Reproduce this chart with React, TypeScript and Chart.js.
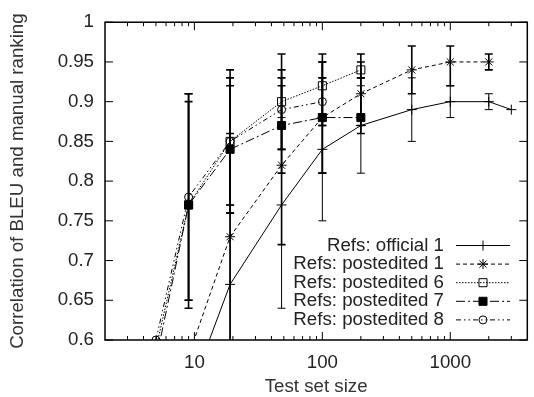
import React, { useEffect, useRef } from 'react';
import { Chart, registerables } from 'chart.js';
import { drawPoint } from 'chart.js/helpers';

Chart.register(...registerables);

// ---- data ----
const xOfficial1 = [9, 19, 48, 100, 200, 500, 1000, 2000, 3000];
const yOfficial1 = [0.53, 0.67, 0.77, 0.84, 0.87, 0.89, 0.9, 0.9, 0.89];
const loOfficial1 = [null, 0.4, 0.64, 0.75, 0.81, 0.85, 0.88, 0.89, null];
const hiOfficial1 = [null, 0.77, 0.88, 0.93, 0.92, 0.93, 0.92, 0.91, null];

const xPost1 = [9, 19, 48, 100, 200, 500, 1000, 2000];
const yPost1 = [0.58, 0.73, 0.82, 0.88, 0.91, 0.94, 0.95, 0.95];
const loPost1 = [null, 0.55, 0.72, 0.81, 0.86, 0.91, 0.92, 0.94];
const hiPost1 = [null, 0.86, 0.92, 0.96, 0.95, 0.97, 0.97, 0.96];

const xPost6 = [4, 9, 19, 48, 100, 200];
const yPost6 = [0.52, 0.77, 0.85, 0.9, 0.92, 0.94];
const loPost6 = [null, 0.65, 0.76, 0.84, 0.87, 0.93];
const hiPost6 = [null, 0.91, 0.94, 0.96, 0.95, 0.96];

const xPost7 = [4, 9, 19, 48, 100, 200];
const yPost7 = [0.5, 0.77, 0.84, 0.87, 0.88, 0.88];
const loPost7 = [null, 0.64, 0.76, 0.81, 0.81, 0.87];
const hiPost7 = [null, 0.9, 0.92, 0.93, 0.95, 0.93];

const xPost8 = [5, 9, 19, 48, 100];
const yPost8 = [0.6, 0.78, 0.85, 0.89, 0.9];
const loPost8 = [null, 0.65, 0.77, 0.84, 0.87];
const hiPost8 = [null, 0.91, 0.93, 0.94, 0.93];

const seriesLabels = [
  'Refs: official 1',
  'Refs: postedited 1',
  'Refs: postedited 6',
  'Refs: postedited 7',
  'Refs: postedited 8',
];

const xTickValues = [10, 100, 1000];
const xTickLabels = ['10', '100', '1000'];
const yTickValues = [0.6, 0.65, 0.7, 0.75, 0.8, 0.85, 0.9, 0.95, 1];
const yTickLabels = ['0.6', '0.65', '0.7', '0.75', '0.8', '0.85', '0.9', '0.95', '1'];

const FONT = "'Liberation Sans', Arial, Helvetica, sans-serif";
const FS = 18.7;
const TEXT = '#222';

const toPts = (xs: number[], ys: number[]) => xs.map((x, i) => ({ x, y: ys[i] }));

const errorSets = [
  { xs: xOfficial1, lo: loOfficial1, hi: hiOfficial1, w: 1 },
  { xs: xPost1, lo: loPost1, hi: hiPost1, w: 1.6 },
  { xs: xPost6, lo: loPost6, hi: hiPost6, w: 1.6 },
  { xs: xPost7, lo: loPost7, hi: hiPost7, w: 1.6 },
  { xs: xPost8, lo: loPost8, hi: hiPost8, w: 1.6 },
];

const errorBarPlugin = {
  id: 'errorBars',
  beforeDatasetsDraw(chart: any) {
    const { ctx, chartArea: a, scales } = chart;
    const xs = scales.x, ys = scales.y;
    ctx.save();
    ctx.beginPath();
    ctx.rect(a.left, a.top, a.right - a.left, a.bottom - a.top);
    ctx.clip();
    ctx.strokeStyle = '#000';
    errorSets.forEach((s) => {
      ctx.lineWidth = s.w;
      s.xs.forEach((xv, i) => {
        const lo = s.lo[i], hi = s.hi[i];
        if (lo == null || hi == null) return;
        const px = xs.getPixelForValue(xv);
        const p1 = ys.getPixelForValue(lo);
        const p2 = ys.getPixelForValue(hi);
        ctx.beginPath();
        ctx.moveTo(px, p1); ctx.lineTo(px, p2);
        ctx.moveTo(px - 4, p1); ctx.lineTo(px + 4, p1);
        ctx.moveTo(px - 4, p2); ctx.lineTo(px + 4, p2);
        ctx.stroke();
      });
    });
    ctx.restore();
  },
};

const frameLegendPlugin = {
  id: 'frameLegend',
  afterDraw(chart: any) {
    const { ctx, chartArea: a, scales } = chart;
    const xs = scales.x, ys = scales.y;
    ctx.save();
    ctx.strokeStyle = '#000';
    ctx.lineWidth = 1;
    // major y ticks
    yTickValues.forEach((v) => {
      const y = ys.getPixelForValue(v);
      ctx.beginPath();
      ctx.moveTo(a.left, y); ctx.lineTo(a.left + 8, y);
      ctx.moveTo(a.right, y); ctx.lineTo(a.right - 8, y);
      ctx.stroke();
    });
    // x ticks (major + minor)
    const min = xs.min, max = xs.max;
    for (let d = 1; d <= 1000; d *= 10) {
      for (let k = 1; k <= 9; k++) {
        const v = k * d;
        if (v <= min || v >= max) continue;
        const x = xs.getPixelForValue(v);
        const len = k === 1 ? 8 : 4;
        ctx.beginPath();
        ctx.moveTo(x, a.bottom); ctx.lineTo(x, a.bottom - len);
        ctx.moveTo(x, a.top); ctx.lineTo(x, a.top + len);
        ctx.stroke();
      }
    }
    // border
    ctx.lineWidth = 1.5;
    ctx.strokeRect(a.left, a.top, a.right - a.left, a.bottom - a.top);

    // legend
    const textRight = 444;
    const lineL = 456, lineR = 510, mark = 483;
    const y0 = 245.5, dy = 18.6;
    ctx.font = `${FS}px ${FONT}`;
    ctx.textAlign = 'right';
    ctx.textBaseline = 'middle';
    chart.data.datasets.forEach((ds: any, i: number) => {
      const y = y0 + i * dy;
      ctx.fillStyle = TEXT;
      ctx.fillText(ds.label, textRight, y);
      ctx.strokeStyle = '#000';
      ctx.lineWidth = 1;
      ctx.setLineDash(ds.borderDash || []);
      ctx.beginPath();
      ctx.moveTo(lineL, y); ctx.lineTo(lineR, y);
      ctx.stroke();
      ctx.setLineDash([]);
      ctx.fillStyle = ds.pointBackgroundColor;
      ctx.strokeStyle = '#000';
      ctx.lineWidth = 1;
      drawPoint(ctx, { pointStyle: ds.pointStyle, radius: ds.pointRadius, borderWidth: 1, rotation: 0 } as any, mark, y);
    });
    ctx.restore();
  },
};

export default function App() {
  const ref = useRef<HTMLCanvasElement | null>(null);
  useEffect(() => {
    if (!ref.current) return;
    const base = {
      borderColor: '#000',
      borderWidth: 1,
      pointBorderColor: '#000',
      pointBorderWidth: 1,
      fill: false,
      tension: 0,
    };
    const chart = new Chart(ref.current, {
      type: 'line',
      data: {
        datasets: [
          { ...base, label: seriesLabels[0], data: toPts(xOfficial1, yOfficial1), borderDash: [], pointStyle: 'cross', pointRadius: 5, pointBackgroundColor: 'rgba(0,0,0,0)' },
          { ...base, label: seriesLabels[1], data: toPts(xPost1, yPost1), borderDash: [4, 3], pointStyle: 'star', pointRadius: 5, pointBackgroundColor: 'rgba(0,0,0,0)' },
          { ...base, label: seriesLabels[2], data: toPts(xPost6, yPost6), borderDash: [1.5, 1.5], pointStyle: 'rect', pointRadius: 5.7, pointBackgroundColor: 'rgba(0,0,0,0)' },
          { ...base, label: seriesLabels[3], data: toPts(xPost7, yPost7), borderDash: [9, 3, 2, 3], pointStyle: 'rect', pointRadius: 5.7, pointBackgroundColor: '#000' },
          { ...base, label: seriesLabels[4], data: toPts(xPost8, yPost8), borderDash: [5, 3, 1.5, 3, 1.5, 3], pointStyle: 'circle', pointRadius: 4, pointBackgroundColor: 'rgba(0,0,0,0)' },
        ] as any,
      },
      options: {
        responsive: false,
        animation: false,
        events: [],
        layout: { padding: { top: 14, right: 2, left: 0, bottom: 0 } },
        plugins: { legend: { display: false }, tooltip: { enabled: false } },
        scales: {
          x: {
            type: 'logarithmic',
            min: 2,
            max: 4000,
            grid: { display: false, drawTicks: false },
            border: { display: false },
            afterBuildTicks: (s: any) => { s.ticks = xTickValues.map((v) => ({ value: v })); },
            afterFit: (s: any) => { s.height = 57; },
            ticks: {
              autoSkip: false,
              maxRotation: 0,
              padding: 12,
              color: TEXT,
              font: { family: FONT, size: FS },
              callback: (_v: any, i: number) => xTickLabels[i],
            },
            title: { display: true, text: 'Test set size', color: '#333', font: { family: FONT, size: FS }, padding: { top: 0, bottom: -1 } },
          },
          y: {
            type: 'linear',
            min: 0.6,
            max: 1,
            grid: { display: false, drawTicks: false },
            border: { display: false },
            afterBuildTicks: (s: any) => { s.ticks = yTickValues.map((v) => ({ value: v })); },
            afterFit: (s: any) => { s.width = 105; },
            ticks: {
              padding: 11,
              color: TEXT,
              font: { family: FONT, size: FS },
              callback: (_v: any, i: number) => yTickLabels[i],
            },
            title: { display: true, text: 'Correlation of BLEU and manual ranking', color: '#333', font: { family: FONT, size: FS }, padding: { top: 6.5, bottom: 0 } },
          },
        },
      } as any,
      plugins: [errorBarPlugin, frameLegendPlugin],
    });
    return () => chart.destroy();
  }, []);
  return (
    <div style={{ position: 'fixed', left: 0, top: 0, width: 534, height: 397, background: '#fff' }}>
      <canvas ref={ref} width={534} height={397} />
    </div>
  );
}
